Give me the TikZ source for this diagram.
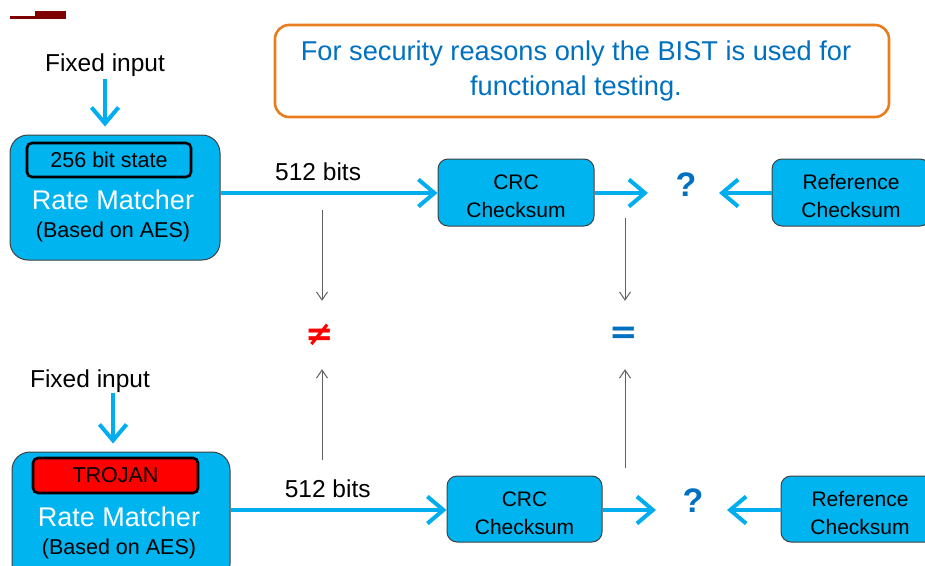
\documentclass[tikz,border=0pt]{standalone}
\usepackage{fontspec}
\setmainfont{Liberation Sans}
\newfontfamily\symfont{DejaVu Sans}
\usetikzlibrary{arrows.meta}

\definecolor{skyblue}{HTML}{00B4F0}
\definecolor{flowblue}{HTML}{00AEEF}
\definecolor{boxborder}{HTML}{404040}
\definecolor{titleblue}{HTML}{0070C0}
\definecolor{noteorange}{HTML}{E87D1E}
\definecolor{markred}{HTML}{7F0000}
\definecolor{probegray}{HTML}{606060}

\newcommand{\firstline}{\rule{0pt}{23pt}}
\newcommand{\padright}{\hspace*{12pt}}

\tikzset{
  bigbox/.style={draw=boxborder, fill=skyblue, line width=1pt, rounded corners=18pt},
  smallbox/.style={draw=boxborder, fill=skyblue, line width=1pt, rounded corners=10pt,
    align=center, font=\fontsize{21}{28}\selectfont},
  innerbox/.style={draw=black, line width=2.6pt, rounded corners=5pt, inner sep=0pt,
    font=\fontsize{21.5}{24}\selectfont},
  flow/.style={draw=flowblue, line width=4pt,
    -{Straight Barb[length=16pt,width=27pt,line width=4pt]}},
  probe/.style={draw=probegray, line width=1pt,
    -{Straight Barb[length=8pt,width=11pt,line width=1pt]}},
  lbl/.style={font=\fontsize{24.5}{28}\selectfont, inner sep=0pt},
  qmark/.style={font=\fontsize{34}{36}\selectfont\bfseries, text=titleblue, inner sep=0pt},
}

\begin{document}
\begin{tikzpicture}[x=1pt, y=-1pt]
\useasboundingbox (0,0) rectangle (925,565);
\clip (0,0) rectangle (925,565);

% corner mark
\fill[markred] (10,16) rectangle (35,18.5);
\fill[markred] (35,11) rectangle (66,19);

% note
\node[draw=noteorange, line width=2.6pt, rounded corners=14pt,
      minimum width=614pt, minimum height=92pt, text=titleblue, align=center,
      font=\fontsize{27.2}{35}\selectfont] (note) at (582,71)
  {For security reasons only the BIST is used for\padright\\functional testing.\padright};

% ---------- upper chain ----------
\node[lbl] (fi1) at (105,65) {Fixed input};
\node[bigbox, minimum width=210pt, minimum height=125pt] (rm1) at (115,197.5) {};
\node[innerbox, minimum width=164pt, minimum height=34pt] (st1) at (109,160) {256 bit state};
\node[text=white, font=\fontsize{27}{30}\selectfont, inner sep=0pt] (rmt1) at (113,200) {Rate Matcher};
\node[font=\fontsize{21.5}{24}\selectfont, inner sep=0pt] (rmb1) at (113,232) {(Based on AES)};

\node[smallbox, minimum width=156pt, minimum height=67pt] (crc1) at (516,192.5) {\firstline CRC\\Checksum};
\node[smallbox, minimum width=158pt, minimum height=67pt] (ref1) at (851,192.5) {\firstline Reference\\Checksum};
\node[qmark] (q1) at (686,185) {?};
\coordinate (q1l) at (648,193);
\coordinate (q1r) at (719,193);

\draw[flow, shorten <=2pt, shorten >=8pt] (fi1.south) -- (fi1.south |- rm1.north);
\draw[flow] (rm1.east |- 0,193) -- node[lbl, above=10pt, pos=0.45] (b1) {512 bits} (crc1.west |- 0,193);
\draw[flow] (crc1.east |- q1l) -- (q1l);
\draw[flow] (ref1.west |- q1r) -- (q1r);

% ---------- comparison ----------
\node[text=red, font=\fontsize{34}{36}\selectfont\symfont\bfseries, inner sep=0pt,
      minimum height=68pt] (neq) at (320,335) {≠};
\node[text=titleblue, font=\fontsize{34}{36}\selectfont\symfont\bfseries, inner sep=0pt,
      minimum height=68pt] (eq) at (624,335) {=};
\coordinate (p1) at (322,210);
\coordinate (p2) at (625,218);
\coordinate (p3) at (322,460);
\coordinate (p4) at (625,468);
\draw[probe] (p1) -- (p1 |- neq.north);
\draw[probe] (p2) -- (p2 |- eq.north);
\draw[probe] (p3) -- (p3 |- neq.south);
\draw[probe] (p4) -- (p4 |- eq.south);

% ---------- lower chain ----------
\node[lbl] (fi2) at (90,381) {Fixed input};
\node[bigbox, minimum width=218pt, minimum height=130pt] (rm2) at (121,517) {};
\node[innerbox, fill=red, minimum width=165pt, minimum height=35pt] (tj) at (115.5,475.5) {TROJAN};
\node[text=white, font=\fontsize{27}{30}\selectfont, inner sep=0pt] (rmt2) at (119,517) {Rate Matcher};
\node[font=\fontsize{21.5}{24}\selectfont, inner sep=0pt] (rmb2) at (119,549) {(Based on AES)};

\node[smallbox, minimum width=155pt, minimum height=66pt] (crc2) at (524.5,509) {\firstline CRC\\Checksum};
\node[smallbox, minimum width=158pt, minimum height=66pt] (ref2) at (860,509) {\firstline Reference\\Checksum};
\node[qmark] (q2) at (693,501) {?};
\coordinate (q2l) at (656,510);
\coordinate (q2r) at (727,510);

\draw[flow, shorten >=8pt] ([xshift=23pt]fi2.south) -- ([xshift=23pt]fi2.south |- rm2.north);
\draw[flow] (rm2.east |- 0,510) -- node[lbl, above=10pt, pos=0.45] (b2) {512 bits} (crc2.west |- 0,510);
\draw[flow] (crc2.east |- q2l) -- (q2l);
\draw[flow] (ref2.west |- q2r) -- (q2r);
\end{tikzpicture}
\end{document}
